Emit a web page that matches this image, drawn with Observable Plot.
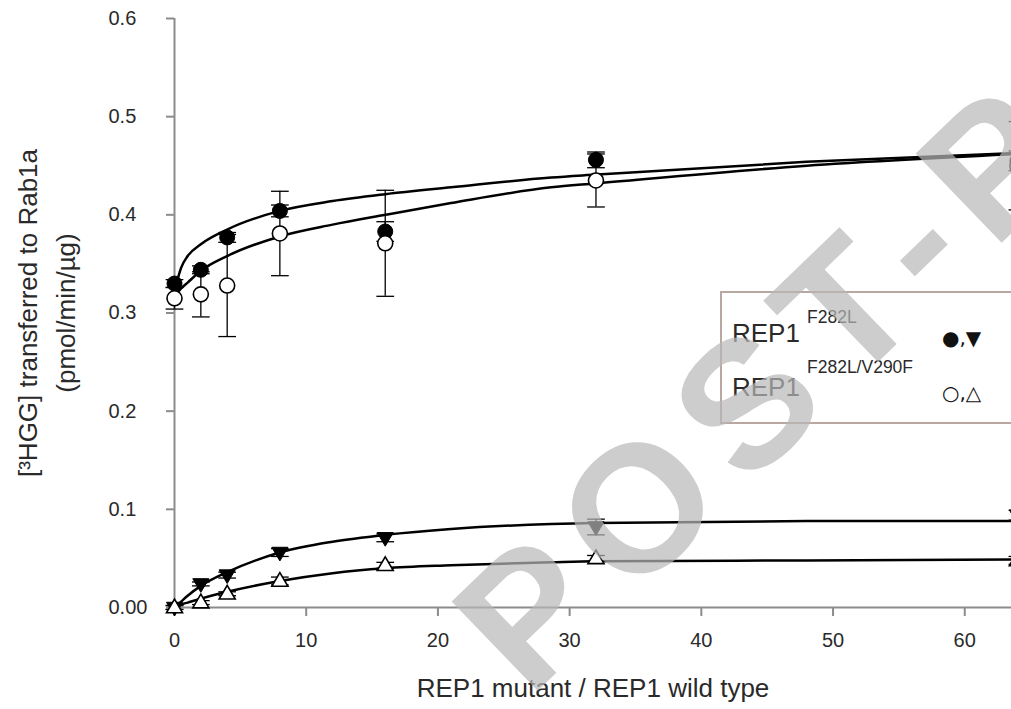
<!DOCTYPE html>
<html><head><meta charset="utf-8">
<script src="https://cdn.jsdelivr.net/npm/d3@7"></script>
<script src="https://cdn.jsdelivr.net/npm/@observablehq/plot@0.6"></script>
<style>
html,body{margin:0;padding:0;background:#fff;overflow:hidden;}
#wrap{position:relative;width:1011px;height:709px;overflow:hidden;}
#wrap svg{position:absolute;left:0;top:0;}
</style></head><body><div id="wrap"></div>
<script>
// ---- data ----
const conc = [0, 2, 4, 8, 16, 32, 64];            // REP1 mutant / REP1 wild type
// upper pair (circles)
const f282lCircle      = [0.330, 0.344, 0.377, 0.404, 0.383, 0.456, 0.455];
const f282lCircleErr   = [0.004, 0.004, 0.005, 0.006, 0.010, 0.008, 0.010];
const doubleCircle     = [0.315, 0.319, 0.328, 0.381, 0.371, 0.435, 0.450];
const doubleCircleErr  = [0.011, 0.023, 0.052, 0.043, 0.054, 0.027, 0.045];
// lower pair (triangles)
const f282lTri         = [0.000, 0.024, 0.033, 0.056, 0.071, 0.082, 0.094];
const f282lTriErr      = [0.002, 0.002, 0.003, 0.004, 0.004, 0.008, 0.005];
const doubleTri        = [0.000, 0.005, 0.014, 0.027, 0.043, 0.050, 0.048];
const doubleTriErr     = [0.002, 0.002, 0.002, 0.004, 0.003, 0.003, 0.004];
// fitted curves
const fitX             = [0, 0.25, 0.5, 1, 2, 4, 8, 12, 16, 21, 28.6, 32, 48, 64];
const fitF282lCircle   = [0.322, 0.335, 0.346, 0.358, 0.370, 0.385, 0.404, 0.414, 0.421, 0.428, 0.438, 0.441, 0.454, 0.463];
const fitDoubleCircle  = [0.318, 0.321, 0.325, 0.331, 0.343, 0.358, 0.378, 0.390, 0.400, 0.412, 0.428, 0.432, 0.450, 0.462];
const fitF282lTri      = [0.000, 0.003, 0.006, 0.012, 0.022, 0.036, 0.056, 0.067, 0.074, 0.080, 0.085, 0.086, 0.088, 0.088];
const fitDoubleTri     = [0.000, 0.001, 0.003, 0.005, 0.009, 0.016, 0.027, 0.035, 0.040, 0.043, 0.046, 0.047, 0.048, 0.049];
// axes
const xTicks = [0, 10, 20, 30, 40, 50, 60];
const yTicks = [0, 0.1, 0.2, 0.3, 0.4, 0.5, 0.6];
const yTickLabels = ["0.00", "0.1", "0.2", "0.3", "0.4", "0.5", "0.6"];
const xTitle = "REP1 mutant / REP1 wild type";
const yTitle1 = "[³HGG] transferred to Rab1a";
const yTitle2 = "(pmol/min/µg)";
const legendNames = ["REP1", "REP1"];
const legendSups = ["F282L", "F282L/V290F"];
const legendSymbols = ["●,▼", "○,△"];
const watermark = "POST-PRINT";

// ---- build tables ----
const pts = (ys, es) => conc.map((x, i) => ({x, y: ys[i], lo: ys[i] - es[i], hi: ys[i] + es[i]}));
const fit = ys => fitX.map((x, i) => ({x, y: ys[i]}));
const cF = pts(f282lCircle, f282lCircleErr), cD = pts(doubleCircle, doubleCircleErr);
const tF = pts(f282lTri, f282lTriErr), tD = pts(doubleTri, doubleTriErr);
const all = [...cF, ...cD, ...tF, ...tD];
const yLab = new Map(yTicks.map((t, i) => [t, yTickLabels[i]]));

const cap = {draw(ctx, size) { const w = Math.sqrt(size) / 2; ctx.moveTo(-w, 0); ctx.lineTo(w, 0); }};
const triDown = {draw(ctx, size) { const r = Math.sqrt(size / Math.PI); ctx.moveTo(-r * 1.15, -r * 0.75); ctx.lineTo(r * 1.15, -r * 0.75); ctx.lineTo(0, r * 1.2); ctx.closePath(); }};
const triUp = {draw(ctx, size) { const r = Math.sqrt(size / Math.PI); ctx.moveTo(-r * 1.15, r * 0.75); ctx.lineTo(r * 1.15, r * 0.75); ctx.lineTo(0, -r * 1.2); ctx.closePath(); }};

const font = "'Liberation Sans', Arial, sans-serif";
const axisGray = "#8c8c8c";
const textCol = "#2a2a2a";
const chart = Plot.plot({
  width: 1011, height: 709,
  marginLeft: 174, marginRight: 0, marginTop: 18, marginBottom: 102,
  style: {background: "#fff", fontFamily: font, color: "#222"},
  x: {domain: [0, 63.55]},
  y: {domain: [0, 0.6]},
  marks: [
    Plot.ruleX([0], {y1: 0, y2: 0.6, stroke: axisGray, strokeWidth: 2}),
    Plot.ruleY([0], {stroke: axisGray, strokeWidth: 2}),
    Plot.axisY({ticks: yTicks, tickFormat: d => yLab.get(d), tickSize: 8, tickPadding: 58, textAnchor: "start",
      stroke: axisGray, strokeWidth: 2, fill: textCol, fontSize: 20, label: null}),
    Plot.axisX({ticks: xTicks, tickSize: 9, tickPadding: 16, stroke: axisGray, strokeWidth: 2, fill: textCol, fontSize: 20, label: null}),
    Plot.text([xTitle], {frameAnchor: "bottom", dy: 81, fontSize: 26, fill: textCol, textAnchor: "middle", lineAnchor: "middle"}),
    Plot.text([yTitle1], {frameAnchor: "left", dx: -146, rotate: -90, fontSize: 26, fill: textCol, textAnchor: "middle", lineAnchor: "middle"}),
    Plot.text([yTitle2], {frameAnchor: "left", dx: -108, rotate: -90, fontSize: 26, fill: textCol, textAnchor: "middle", lineAnchor: "middle"}),
    // fitted curves
    Plot.line(fit(fitF282lCircle), {x: "x", y: "y", curve: "monotone-x", stroke: "#000", strokeWidth: 2.5}),
    Plot.line(fit(fitDoubleCircle), {x: "x", y: "y", curve: "monotone-x", stroke: "#000", strokeWidth: 2.5}),
    Plot.line(fit(fitF282lTri), {x: "x", y: "y", curve: "monotone-x", stroke: "#000", strokeWidth: 2.5}),
    Plot.line(fit(fitDoubleTri), {x: "x", y: "y", curve: "monotone-x", stroke: "#000", strokeWidth: 2.5}),
    // error bars
    Plot.ruleX(all, {x: "x", y1: "lo", y2: "hi", stroke: "#000", strokeWidth: 1.3}),
    Plot.dot(all, {x: "x", y: "lo", symbol: cap, r: 10, stroke: "#000", strokeWidth: 1.3, fill: "none"}),
    Plot.dot(all, {x: "x", y: "hi", symbol: cap, r: 10, stroke: "#000", strokeWidth: 1.3, fill: "none"}),
    // markers
    Plot.dot(cF, {x: "x", y: "y", r: 7.5, fill: "#000", stroke: "#000", strokeWidth: 1}),
    Plot.dot(cD, {x: "x", y: "y", r: 7.5, fill: "#fff", stroke: "#000", strokeWidth: 1.6}),
    Plot.dot(tF, {x: "x", y: "y", symbol: triDown, r: 7, fill: "#000", stroke: "#000", strokeWidth: 1}),
    Plot.dot(tD, {x: "x", y: "y", symbol: triUp, r: 7, fill: "#fff", stroke: "#000", strokeWidth: 1.6})
  ]
});
const wrap = document.getElementById("wrap");
wrap.appendChild(chart);

// ---- legend and watermark overlay ----
const ov = d3.select(wrap).append("svg").attr("width", 1011).attr("height", 709)
  .style("font-family", font);
ov.append("rect").attr("x", 721).attr("y", 292).attr("width", 340).attr("height", 131)
  .attr("fill", "#fff").attr("stroke", "#b9a8a0").attr("stroke-width", 2);
const rowBase = [342, 396], supBase = [323, 373], symY = [338, 393];
legendNames.forEach((n, i) => {
  ov.append("text").attr("x", 732).attr("y", rowBase[i]).attr("fill", textCol).attr("font-size", 26).text(n);
  ov.append("text").attr("x", 807).attr("y", supBase[i]).attr("fill", textCol).attr("font-size", 17.5).text(legendSups[i]);
  ov.append("text").attr("x", 942).attr("y", symY[i]).attr("dy", "0.35em").attr("fill", "#111").attr("font-size", 20)
    .attr("font-family", "'DejaVu Sans', sans-serif").text(legendSymbols[i]);
});
ov.append("text").attr("transform", "translate(529,699) rotate(-44)")
  .attr("font-size", 180).attr("font-weight", "bold").attr("letter-spacing", 21).attr("fill", "#b8b8b8").attr("opacity", 0.7)
  .text(watermark);
</script></body></html>
